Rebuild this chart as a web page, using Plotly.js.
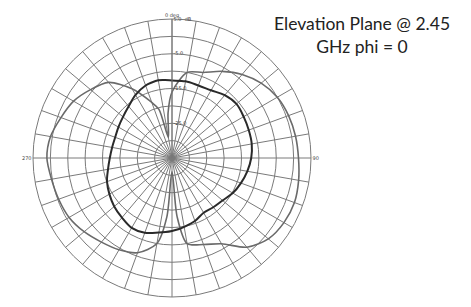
<!DOCTYPE html>
<html>
<head>
<meta charset="utf-8">
<script src="https://cdn.plot.ly/plotly-3.0.1.min.js"></script>
<style>html,body{margin:0;padding:0;background:#fff;}#chart{width:471px;height:307px;}</style>
</head>
<body>
<div id="chart"></div>
<script>
// Angles in degrees (0 = top, clockwise)
const angles = [0,10,20,30,40,50,60,70,80,90,100,110,120,130,140,150,160,170,175,180,185,190,200,210,220,230,240,250,260,270,280,290,300,310,320,330,340,345,350,355,360];

// Gain (dB), dark trace
const gainDark = [-12.7,-12.6,-12.8,-12.5,-11.4,-10.8,-11.2,-11.5,-11.7,-12.2,-13.0,-13.9,-14.8,-16.0,-16.5,-16.8,-15.7,-14.9,-14.4,-14.0,-13.6,-13.2,-12.1,-11.8,-12.6,-13.3,-14.2,-15.1,-16.3,-17.1,-17.5,-17.6,-17.2,-16.6,-15.6,-14.0,-12.8,-12.5,-12.3,-12.5,-12.7];

// Gain (dB), gray trace
const gainGray = [-16,-10,-8.8,-6.2,-3.6,-1.5,0,0.7,1.1,1.4,2.0,2.5,2.2,1.2,-1.5,-6.5,-8.5,-10,-18,-31,-18,-10,-6,-4.5,-3.4,-2.0,-0.8,-0.3,0.2,1.0,0.5,-1.0,-2.3,-4.4,-6.6,-12,-18,-20.5,-29,-22,-16];

const radialTicks = [-35,-30,-25,-20,-15,-10,-5,0,5];
const radialText = ["","","-25.0","","-15.0","","-5.0","","5.0  dB"];

const angTicks = [];
const angText = [];
for (let a = 0; a < 360; a += 10) {
  angTicks.push(a);
  angText.push(a === 0 ? "0 deg" : (a === 90 ? "90" : (a === 270 ? "270" : "")));
}

const data = [
  {type:'scatterpolar', mode:'lines', r: gainGray, theta: angles,
   line:{color:'#6a6a6a', width:1.6, shape:'spline', smoothing:0.8}, hoverinfo:'skip'},
  {type:'scatterpolar', mode:'lines', r: gainDark, theta: angles,
   line:{color:'#2a2a2a', width:2, shape:'spline'}, hoverinfo:'skip'}
];

const layout = {
  width:471, height:307,
  margin:{l:0,r:0,t:0,b:0},
  paper_bgcolor:'#ffffff',
  showlegend:false,
  annotations:[{text:'Elevation Plane @ 2.45<br>GHz phi = 0', showarrow:false,
         font:{family:'Lato, "Open Sans", sans-serif', size:17.5, color:'#222'},
         xref:'paper', yref:'paper', x:362/471, xanchor:'center', y:1-11/307, yanchor:'top', align:'center'}],
  polar:{
    domain:{x:[(172-139)/471,(172+139)/471], y:[1-(158+139)/307, 1-(158-139)/307]},
    bgcolor:'#ffffff',
    radialaxis:{range:[-35,5], tickvals:radialTicks, ticktext:radialText, angle:90, tickangle:90,
      showline:true, linecolor:'#777', linewidth:1, ticks:'', gridcolor:'#7a7a7a', gridwidth:1,
      tickfont:{size:5, color:'#444', family:'DejaVu Sans'}},
    angularaxis:{rotation:90, direction:'clockwise', tickvals:angTicks, ticktext:angText,
      ticks:'', showline:true, linecolor:'#7a7a7a', linewidth:1, gridcolor:'#7a7a7a', gridwidth:1,
      tickfont:{size:5, color:'#444', family:'DejaVu Sans'}}
  }
};

Plotly.newPlot('chart', data, layout, {displayModeBar:false, staticPlot:true});
</script>
</body>
</html>
